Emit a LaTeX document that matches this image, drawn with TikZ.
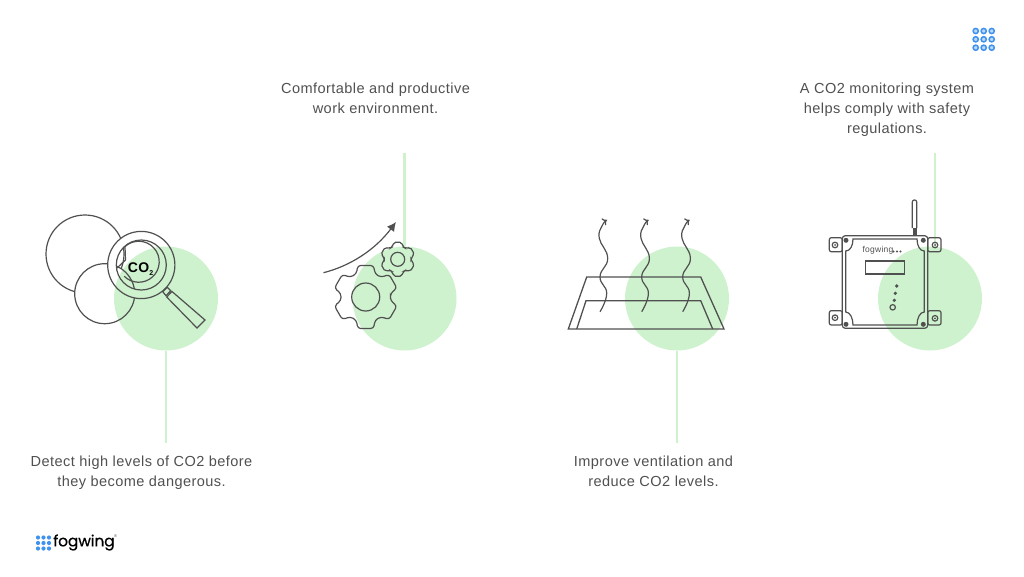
\documentclass[tikz,border=0pt]{standalone}
\usepackage{fontspec}
\setmainfont[LetterSpace=3]{Liberation Sans}
\newfontfamily\logofont[FakeBold=0.5,LetterSpace=-1]{Poppins}
\usetikzlibrary{arrows.meta}
\definecolor{leafgreen}{HTML}{CDF2CD}
\definecolor{inkgrey}{HTML}{505050}
\definecolor{dotblue}{HTML}{3F92EE}
\tikzset{
  caption/.style={align=center,font=\fontsize{14.55}{20}\selectfont,text=inkgrey},
  blob/.style={circle,fill=leafgreen,inner sep=0pt,minimum size=104},
  stem/.style={draw=leafgreen,line width=2.4pt},
  icon/.style={draw=inkgrey,line width=1.2pt},
  griddot/.style={draw=dotblue,line width=1.5pt,fill=dotblue!35},
}
\begin{document}
\begin{tikzpicture}[x=1pt,y=-1pt]
  \useasboundingbox (0,0) rectangle (1024,576);
  % green discs and their stems
  \node[blob] (blobA) at (166,298.5) {};
  \node[blob] (blobB) at (404.5,298.5) {};
  \node[blob] (blobC) at (677,298.5) {};
  \node[blob] (blobD) at (930,298.5) {};
  \coordinate (stemA) at (166,443);
  \coordinate (stemB) at (404.5,153);
  \coordinate (stemC) at (677,443);
  \coordinate (stemDtop) at (935,153);
  \coordinate (stemDend) at (935,252);
  \draw[stem] (blobA.south) -- (stemA);
  \draw[stem] (blobB.north) -- (stemB);
  \draw[stem] (blobC.south) -- (stemC);
  \draw[stem] (stemDtop) -- (stemDend);
  % captions
  \node[caption] (capA) at (141.5,473) {Detect high levels of CO2 before\\they become dangerous.};
  \node[caption] (capB) at (375.5,98) {Comfortable and productive\\work environment.};
  \node[caption] (capC) at (653.5,471) {Improve ventilation and\\reduce CO2 levels.};
  \node[caption] (capD) at (887,110) {A CO2 monitoring system\\helps comply with safety\\regulations.};
  % magnifier over two circles
  \begin{scope}[even odd rule]
    \clip (0,0) rectangle (1024,576) (141.3,265) circle (33.6) (141.3,265) circle (25);
    \begin{scope}[even odd rule]
      \clip (0,0) rectangle (1024,576) (104.7,293.7) circle (30);
      \draw[icon] (85,254) circle (39);
    \end{scope}
    \draw[icon] (104.7,293.7) circle (30);
  \end{scope}
  \draw[icon] (141.3,265) circle (33.6);
  \draw[icon] (141.3,265) circle (25);
  \draw[icon] (125,246.5) arc (-132:135:20.5);
  \draw[icon] (125,246.5) -- (125.5,260) -- (117,268);
  \draw[icon] (162.7,291.7) -- (167.3,287.3) -- (170.7,290.7) -- (166,295.7) -- cycle;
  \draw[icon] (166.7,297) -- (172,291.5) -- (205,320) -- (197,328) -- cycle;
  \node[font=\fontsize{14}{14}\selectfont\bfseries,text=black,inner sep=0pt] (coTwo) at (140.5,269) {CO\raisebox{-3pt}{\fontsize{7}{7}\selectfont 2}};
  % gears and rising arrow
  \begin{scope}[shift={(365.7,297)}]
    \draw[icon,rounded corners=3pt] (8:25) \foreach \a in {30,90,...,330} { -- (\a-22:25) -- (\a-14:32.5) -- (\a+14:32.5) -- (\a+22:25) } -- cycle;
    \draw[icon] (0,0) circle (14);
  \end{scope}
  \begin{scope}[shift={(397.7,259.3)}]
    \draw[icon,rounded corners=2pt] (8:13.5) \foreach \a in {30,90,...,330} { -- (\a-22:13.5) -- (\a-14:17.5) -- (\a+14:17.5) -- (\a+22:13.5) } -- cycle;
    \draw[icon] (0,0) circle (7);
  \end{scope}
  \draw[icon,-{Latex[length=9pt,width=9pt]}] (323.5,272.7) .. controls (350,266) and (375,250) .. (396,222);
  % vent with rising waves
  \draw[icon,line width=1.3pt] (568.3,329) -- (586.7,277) -- (700.7,277) -- (724,329) -- cycle;
  \draw[icon,line width=1.3pt] (576.7,329) -- (586,300.7) -- (700.7,300.7) -- (712.7,329);
  \foreach \x in {600,641.7,682.7} {
    \draw[icon,-{To[length=4pt,width=8pt]}] plot[smooth,tension=0.8] coordinates {(\x,311.7) (\x+6.7,293.3) (\x,276.7) (\x+7.7,258.3) (\x-0.7,238.3) (\x+2,226) (\x+6.7,220)};
  }
  % monitoring box
  \draw[icon,rounded corners=2pt] (829.3,237.7) rectangle (842.3,251.7);
  \draw[icon,rounded corners=2pt] (829.3,310.7) rectangle (842.3,325);
  \draw[icon,rounded corners=2pt] (927.7,237.7) rectangle (941,251.7);
  \draw[icon,rounded corners=2pt] (927.7,310.7) rectangle (941,325);
  \foreach \x/\y in {835/245,835/317.7,935/245,935/318.3} {
    \draw[icon] (\x,\y) circle (2.8);
    \fill[inkgrey] (\x,\y) circle (1);
  }
  \draw[icon,rounded corners=3pt] (842.3,235.7) rectangle (927.7,328.3);
  \draw[icon] (853,239) -- (917,239) .. controls (917,246) and (920,251) .. (924.3,251) -- (924.3,312) .. controls (920,312) and (917,318) .. (917,325) -- (853,325) .. controls (853,318) and (850,312) .. (845.7,312) -- (845.7,251) .. controls (850,251) and (853,246) .. (853,239) -- cycle;
  \foreach \x/\y in {846/240.3,923.3/240.3,846/324.3,923.3/324.3} {
    \fill[inkgrey] (\x,\y) circle (2.5);
  }
  \draw[icon,rounded corners=2pt] (912.3,228) -- (912.3,200) -- (916.7,200) -- (916.7,228);
  \fill[inkgrey] (912.5,228) rectangle (917,236);
  \draw[icon] (865.7,261) rectangle (904.3,274);
  \foreach \x/\y in {896.7/286,895.3/293.3,894.3/300.3} {
    \fill[inkgrey] (\x,\y) circle (1.8);
  }
  \draw[icon] (892.7,307.3) circle (2.7);
  \node[font=\fontsize{8.5}{8.5}\selectfont,text=inkgrey,inner sep=0pt] (boxLabel) at (878,250) {fogwing};
  \foreach \x in {893.5,897,900.5} {
    \fill[inkgrey] (\x,251.5) circle (1.1);
  }
  % corner dots and logo
  \foreach \x in {975.7,983.7,991.7} {
    \foreach \y in {31,39.3,47.7} {
      \draw[griddot] (\x,\y) circle (2.6);
    }
  }
  \foreach \x in {38,43.5,49} {
    \foreach \y in {537.5,543,548.5} {
      \fill[dotblue] (\x,\y) circle (2.1);
    }
  }
  \node[font=\logofont\fontsize{15.5}{15.5}\selectfont,anchor=west,inner sep=0pt,text=black] (logo) at (53,542.5) {fogwing};
  \node[font=\fontsize{4}{4}\selectfont,inner sep=0pt,text=inkgrey] (logoMark) at (115.5,536.5) {®};
\end{tikzpicture}
\end{document}
